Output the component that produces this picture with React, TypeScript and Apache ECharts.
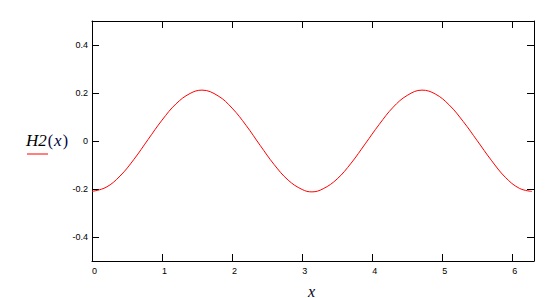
import React, { useEffect, useRef } from "react";
import * as echarts from "echarts";

const xValues = [0, 0.2, 0.4, 0.6, 0.8, 1.0, 1.2, 1.4, 1.57, 1.8, 2.0, 2.2, 2.4, 2.6, 2.8, 3.0, 3.14, 3.3, 3.5, 3.7, 3.9, 4.1, 4.3, 4.5, 4.71, 4.9, 5.1, 5.3, 5.5, 5.7, 5.9, 6.1, 6.28];
const h2Values = [-0.21, -0.193, -0.146, -0.076, 0.006, 0.087, 0.155, 0.198, 0.212, 0.188, 0.137, 0.065, -0.018, -0.098, -0.163, -0.202, -0.212, -0.199, -0.158, -0.092, -0.012, 0.069, 0.141, 0.19, 0.212, 0.196, 0.15, 0.081, 0.001, -0.08, -0.151, -0.197, -0.21];
const xTicks = [0, 1, 2, 3, 4, 5, 6];
const yTicks = [-0.4, -0.2, 0, 0.2, 0.4];

export default function App() {
  const ref = useRef<HTMLDivElement>(null);
  useEffect(() => {
    if (!ref.current) return;
    const chart = echarts.init(ref.current, null, { renderer: "svg" });
    const axisLine = { show: true, onZero: false, lineStyle: { color: "#000", width: 1 } };
    const tickStyle = { show: true, inside: true, length: 7, lineStyle: { color: "#000", width: 1 } };
    const labelFont = { color: "#000", fontSize: 9, fontFamily: "Liberation Sans, Arial, sans-serif" };
    const serif = "Liberation Serif, Times New Roman, serif";
    chart.setOption({
      animation: false,
      backgroundColor: "#fff",
      grid: { left: 92, right: 22, top: 21, bottom: 37, containLabel: false },
      xAxis: [
        {
          type: "value", min: 0, max: 6.31, position: "bottom",
          axisLine, splitLine: { show: false },
          axisTick: { ...tickStyle, customValues: xTicks },
          axisLabel: { ...labelFont, customValues: xTicks, margin: 5, padding: [0, 0, 0, 5], formatter: (v: number) => String(v) },
        },
        {
          type: "value", min: 0, max: 6.31, position: "top",
          axisLine, splitLine: { show: false },
          axisTick: { ...tickStyle, customValues: xTicks },
          axisLabel: { show: false },
        },
      ],
      yAxis: [
        {
          type: "value", min: -0.5, max: 0.5, position: "left",
          axisLine, splitLine: { show: false },
          axisTick: { ...tickStyle, customValues: yTicks },
          axisLabel: { ...labelFont, customValues: yTicks, margin: 4, formatter: (v: number) => String(Math.round(v * 10) / 10) },
        },
        {
          type: "value", min: -0.5, max: 0.5, position: "right",
          axisLine, splitLine: { show: false },
          axisTick: { ...tickStyle, customValues: yTicks },
          axisLabel: { show: false },
        },
      ],
      series: [
        {
          type: "line",
          data: xValues.map((x, i) => [x, h2Values[i]]),
          smooth: 0.4,
          showSymbol: false,
          lineStyle: { color: "#ff0000", width: 1 },
          xAxisIndex: 0, yAxisIndex: 0,
        },
      ],
      graphic: [
        {
          type: "text", left: 26, top: 132,
          style: {
            text: "{a|H2}{b|(}{c|x}{b|)}",
            rich: {
              a: { fontFamily: serif, fontStyle: "italic", fontSize: 17, fill: "#000" },
              b: { fontFamily: serif, fontSize: 16, fill: "#000040", padding: [0, 1, 0, 1] },
              c: { fontFamily: serif, fontStyle: "italic", fontSize: 17, fill: "#000040" },
            },
          },
        },
        { type: "line", shape: { x1: 27, y1: 154, x2: 48, y2: 154 }, style: { stroke: "#ff0000", lineWidth: 1 } },
        {
          type: "text", left: 308, top: 283,
          style: { text: "x", fontFamily: serif, fontStyle: "italic", fontSize: 16, fill: "#000020" },
        },
      ],
    });
    return () => chart.dispose();
  }, []);
  return <div ref={ref} style={{ width: 556, height: 298, position: "absolute", left: 0, top: 0 }} />;
}
